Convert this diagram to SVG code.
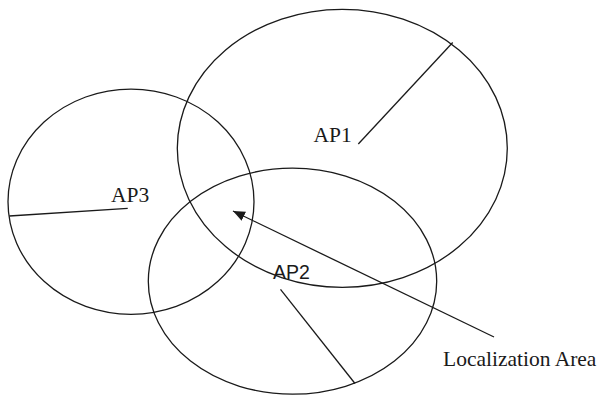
<svg xmlns="http://www.w3.org/2000/svg" width="598" height="396" viewBox="0 0 598 396">
  <style>
    .range { fill: none; stroke: #1a1a1a; stroke-width: 1.3; }
    .radius { stroke: #1a1a1a; stroke-width: 1.3; fill: none; }
    .label { font-family: "Liberation Serif", "Times New Roman", serif; font-size: 21.5px; fill: #1a1a1a; }
    .label-sans { font-family: "Liberation Sans", Arial, sans-serif; font-size: 19.5px; fill: #1a1a1a; }
    .pointer { stroke: #1a1a1a; stroke-width: 1.3; fill: none; }
  </style>
  <defs>
    <marker id="arrowhead" markerUnits="userSpaceOnUse" markerWidth="13" markerHeight="11" refX="12" refY="5" orient="auto">
      <path d="M0,0 L12,5 L0,10 z" fill="#1a1a1a"/>
    </marker>
  </defs>

  <rect width="598" height="396" fill="#ffffff"/>

  <!-- Access point coverage areas -->
  <g id="ap1">
    <ellipse class="range" cx="342.3" cy="148.3" rx="165" ry="139"/>
    <line class="radius" x1="358.3" y1="144" x2="452.7" y2="42.5"/>
    <text class="label" x="313.5" y="141.7">AP1</text>
  </g>

  <g id="ap3">
    <ellipse class="range" cx="131" cy="201.7" rx="123" ry="112.6"/>
    <line class="radius" x1="9.3" y1="216" x2="127.7" y2="208.3"/>
    <text class="label" x="111" y="201.7">AP3</text>
  </g>

  <g id="ap2">
    <ellipse class="range" cx="292.5" cy="281.2" rx="144.2" ry="113"/>
    <line class="radius" x1="280.5" y1="289.3" x2="355" y2="383.5"/>
    <text class="label-sans" x="273" y="278.7">AP2</text>
  </g>

  <g id="localization-area">
    <text class="label" x="443" y="366">Localization Area</text>
  </g>

  <!-- Pointer into the overlap region -->
  <g id="connectors">
    <line class="pointer" x1="494" y1="337" x2="233" y2="211" marker-end="url(#arrowhead)"/>
  </g>
</svg>
